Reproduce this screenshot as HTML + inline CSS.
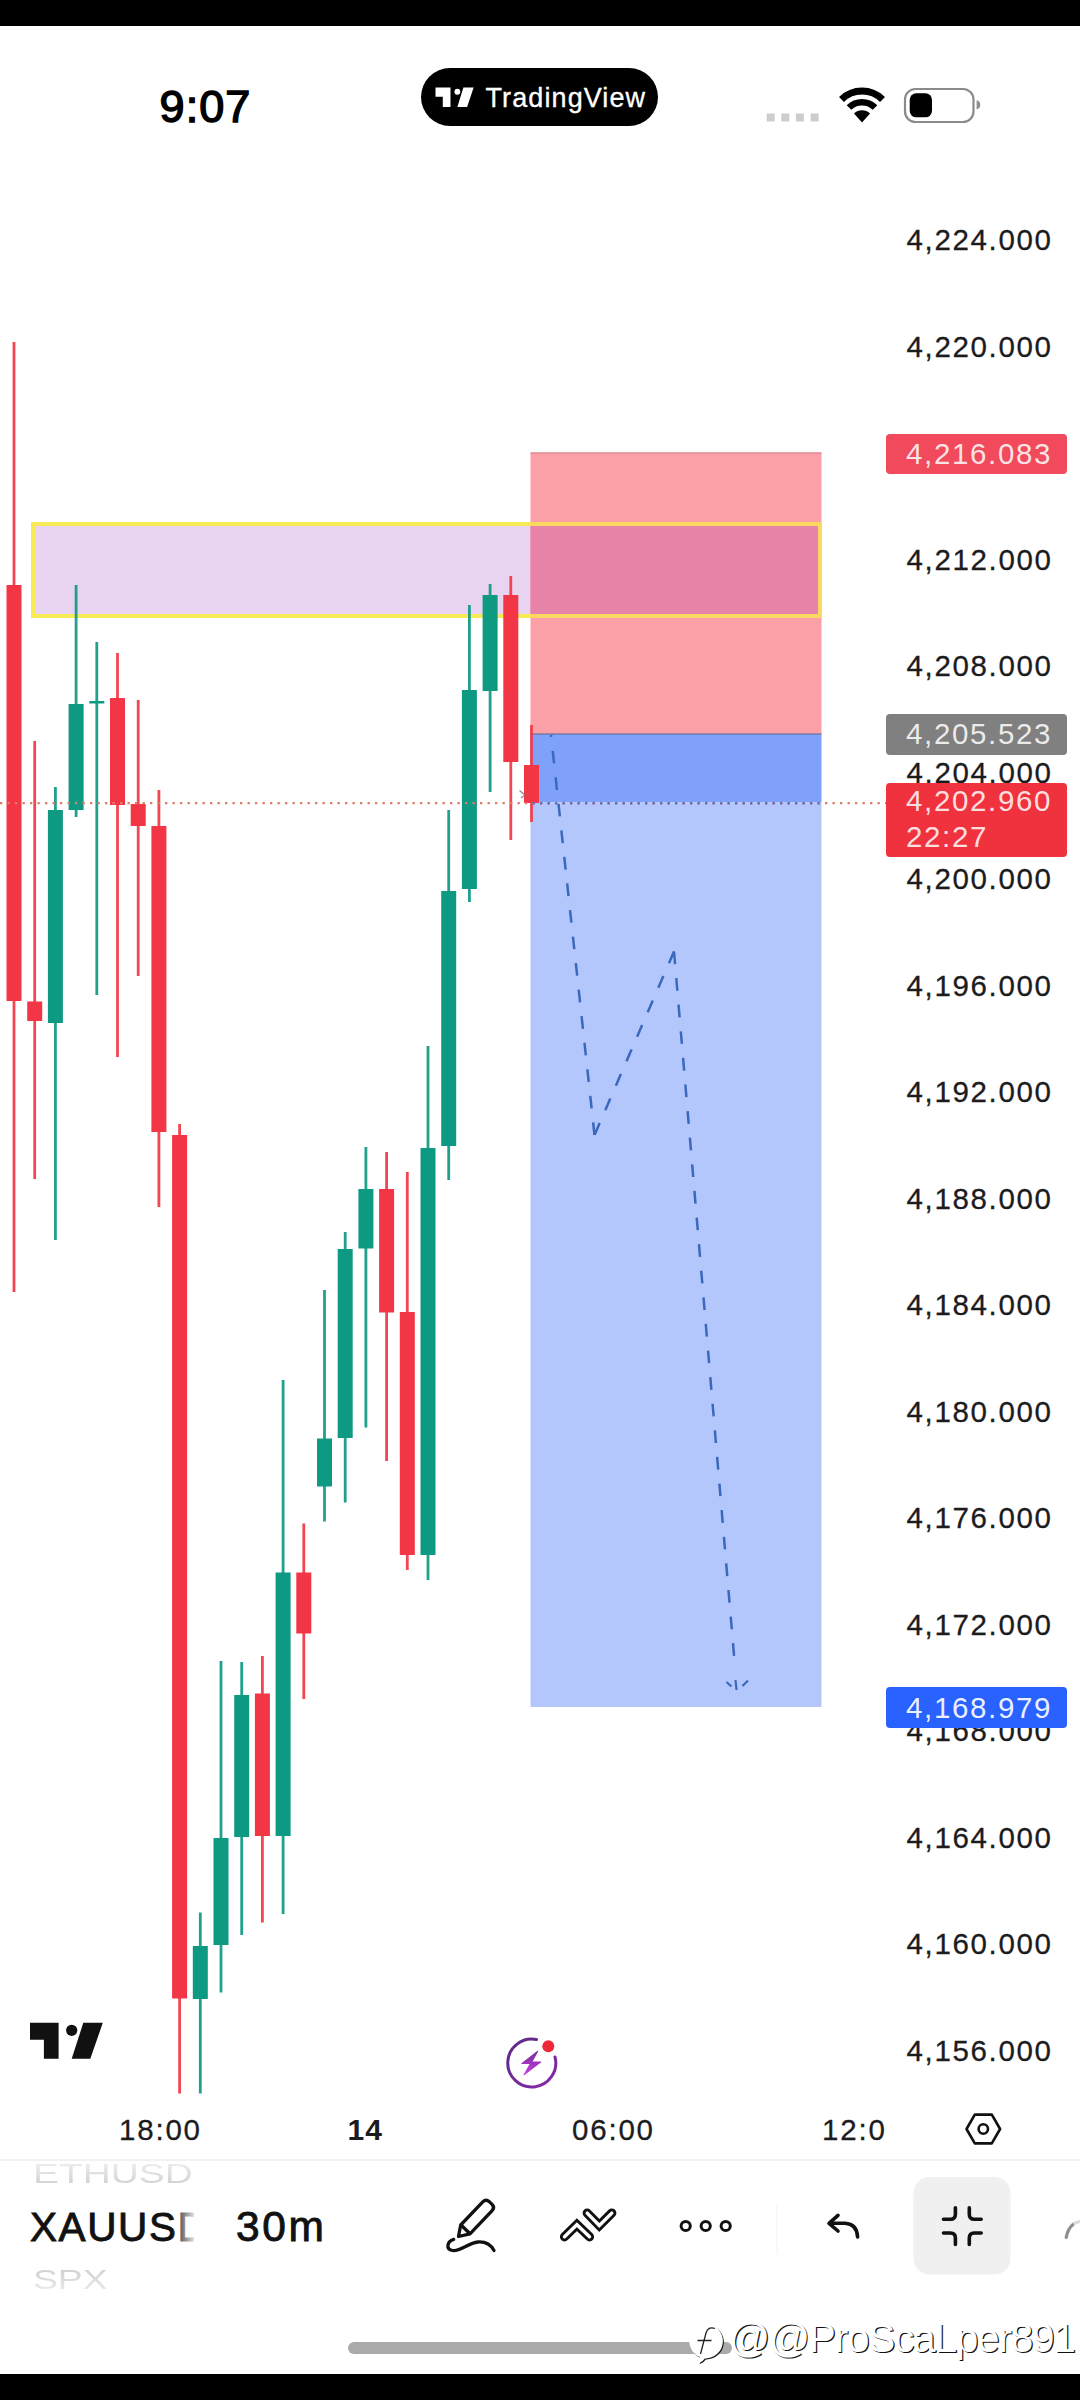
<!DOCTYPE html>
<html><head><meta charset="utf-8"><title>TradingView XAUUSD</title>
<style>
html,body{margin:0;padding:0;background:#fff;}
body{width:1080px;height:2400px;position:relative;overflow:hidden;font-family:"Liberation Sans",sans-serif;color:#131722;}
.abs{position:absolute;}
#bg{position:absolute;left:0;top:0;}
.pl{-webkit-text-stroke:0.3px #1c1c1e;position:absolute;left:906.5px;width:160px;height:40px;line-height:40px;font-size:29.5px;letter-spacing:1.65px;color:#1c1c1e;white-space:nowrap;}
.tag{position:absolute;left:886px;width:181px;border-radius:4px;color:rgba(255,255,255,.85);font-size:29.5px;letter-spacing:1.65px;box-sizing:border-box;padding-left:20px;white-space:nowrap;}
.tl{-webkit-text-stroke:0.3px #1c1c1e;position:absolute;top:2110px;height:40px;line-height:40px;font-size:29.5px;letter-spacing:1.8px;color:#1c1c1e;white-space:nowrap;}
.wide{transform-origin:left center;transform:scaleX(1.4);color:#dcdcdc;font-size:27px;white-space:nowrap;}
</style></head><body>
<svg id="bg" width="1080" height="2400" viewBox="0 0 1080 2400">
<rect x="0" y="0" width="1080" height="26" fill="#000"/>
<rect x="0" y="2374" width="1080" height="26" fill="#000"/>
<!-- zones -->
<rect x="33" y="524" width="787" height="92" fill="#E8D3F1"/>
<rect x="530.5" y="452.5" width="291" height="281.5" fill="#FAA0A6"/>
<rect x="530.5" y="524" width="289.5" height="92" fill="#E783A6"/>
<rect x="530.5" y="734" width="291" height="68.5" fill="#80A1FA"/>
<rect x="530.5" y="802.5" width="291" height="904.5" fill="#B4C7FC"/>
<rect x="33" y="524" width="787" height="92" fill="none" stroke="#F8E957" stroke-width="4"/>
<path d="M530.5,524 H820 V616 H530.5" fill="none" stroke="#FBD862" stroke-width="4"/>
<rect x="530.5" y="733" width="291" height="2" fill="#6b6f9a" opacity="0.6"/>
<rect x="530.5" y="452.2" width="291" height="1.4" fill="#c9707c" opacity="0.55"/>
<!-- candles -->
<rect x="12.6" y="342" width="2.8" height="950" fill="#F23645" opacity="0.92"/>
<rect x="6.5" y="585" width="15" height="416" fill="#F23645"/>
<rect x="33.3" y="741" width="2.8" height="438" fill="#F23645" opacity="0.92"/>
<rect x="27.2" y="1001.5" width="15" height="19.5" fill="#F23645"/>
<rect x="54.0" y="787" width="2.8" height="453" fill="#0E9982" opacity="0.92"/>
<rect x="47.9" y="810" width="15" height="213" fill="#0E9982"/>
<rect x="74.7" y="585" width="2.8" height="232" fill="#0E9982" opacity="0.92"/>
<rect x="68.6" y="704" width="15" height="106" fill="#0E9982"/>
<rect x="95.4" y="642" width="2.8" height="353" fill="#0E9982" opacity="0.92"/>
<rect x="89.3" y="701" width="15" height="2.5" fill="#0E9982"/>
<rect x="116.1" y="653" width="2.8" height="404" fill="#F23645" opacity="0.92"/>
<rect x="110.0" y="698" width="15" height="107" fill="#F23645"/>
<rect x="136.8" y="700" width="2.8" height="276" fill="#F23645" opacity="0.92"/>
<rect x="130.7" y="804" width="15" height="22" fill="#F23645"/>
<rect x="157.5" y="790" width="2.8" height="417" fill="#F23645" opacity="0.92"/>
<rect x="151.4" y="826" width="15" height="306" fill="#F23645"/>
<rect x="178.2" y="1124" width="2.8" height="969.5" fill="#F23645" opacity="0.92"/>
<rect x="172.1" y="1135" width="15" height="863.5" fill="#F23645"/>
<rect x="198.9" y="1912.5" width="2.8" height="181.0" fill="#0E9982" opacity="0.92"/>
<rect x="192.8" y="1946" width="15" height="53" fill="#0E9982"/>
<rect x="219.6" y="1661" width="2.8" height="331.5" fill="#0E9982" opacity="0.92"/>
<rect x="213.5" y="1838" width="15" height="107" fill="#0E9982"/>
<rect x="240.3" y="1662" width="2.8" height="273" fill="#0E9982" opacity="0.92"/>
<rect x="234.2" y="1695" width="15" height="142" fill="#0E9982"/>
<rect x="261.0" y="1656" width="2.8" height="266.5" fill="#F23645" opacity="0.92"/>
<rect x="254.9" y="1693.5" width="15" height="142.5" fill="#F23645"/>
<rect x="281.7" y="1380" width="2.8" height="534" fill="#0E9982" opacity="0.92"/>
<rect x="275.6" y="1572.5" width="15" height="263.5" fill="#0E9982"/>
<rect x="302.4" y="1523.5" width="2.8" height="175.5" fill="#F23645" opacity="0.92"/>
<rect x="296.3" y="1572.5" width="15" height="61.0" fill="#F23645"/>
<rect x="323.1" y="1290" width="2.8" height="231.5" fill="#0E9982" opacity="0.92"/>
<rect x="317.0" y="1438.5" width="15" height="48.0" fill="#0E9982"/>
<rect x="343.8" y="1232" width="2.8" height="270.5" fill="#0E9982" opacity="0.92"/>
<rect x="337.7" y="1249" width="15" height="189" fill="#0E9982"/>
<rect x="364.5" y="1147" width="2.8" height="280.5" fill="#0E9982" opacity="0.92"/>
<rect x="358.4" y="1189" width="15" height="59.5" fill="#0E9982"/>
<rect x="385.2" y="1152" width="2.8" height="309" fill="#F23645" opacity="0.92"/>
<rect x="379.1" y="1189" width="15" height="123.5" fill="#F23645"/>
<rect x="405.9" y="1172" width="2.8" height="398" fill="#F23645" opacity="0.92"/>
<rect x="399.8" y="1312" width="15" height="243" fill="#F23645"/>
<rect x="426.6" y="1046" width="2.8" height="534" fill="#0E9982" opacity="0.92"/>
<rect x="420.5" y="1148" width="15" height="407" fill="#0E9982"/>
<rect x="447.3" y="810" width="2.8" height="370" fill="#0E9982" opacity="0.92"/>
<rect x="441.2" y="891" width="15" height="255" fill="#0E9982"/>
<rect x="468.0" y="605" width="2.8" height="297" fill="#0E9982" opacity="0.92"/>
<rect x="461.9" y="690" width="15" height="199" fill="#0E9982"/>
<rect x="488.7" y="584" width="2.8" height="208" fill="#0E9982" opacity="0.92"/>
<rect x="482.6" y="595" width="15" height="96" fill="#0E9982"/>
<rect x="509.4" y="576" width="2.8" height="264" fill="#F23645" opacity="0.92"/>
<rect x="503.3" y="595" width="15" height="167" fill="#F23645"/>
<rect x="530.1" y="725" width="2.8" height="97" fill="#F23645" opacity="0.92"/>
<rect x="524.0" y="765" width="15" height="38" fill="#F23645"/>
<!-- price line -->
<line x1="0" y1="803.2" x2="886" y2="803.2" stroke="#E07A68" stroke-width="2.2" stroke-dasharray="2.3 5.2"/>
<line x1="532.5" y1="803.2" x2="821.5" y2="803.2" stroke="#6A6CB0" stroke-width="2.4" stroke-dasharray="2.3 5.2"/>
<!-- dashed path -->
<g fill="none" stroke="#3A68BC" stroke-width="2.5" stroke-dasharray="12.7 14"><path d="M594.5,1135 L551,735"/><path d="M674,951.5 L594.5,1135"/><path d="M674,951.5 L735.1,1668"/></g>
<path d="M726.5,1682 L731.5,1686.5 M735.5,1680 L736.5,1690 M748,1680.5 L742.5,1686" stroke="#3A68BC" stroke-width="2.2" fill="none"/>
<!-- pill + grey box (under icons) -->
<rect x="421" y="68" width="237" height="58" rx="29" fill="#000"/>
<rect x="913.5" y="2177" width="97" height="97.5" rx="16" fill="#f0f0f0"/>
<path d="M519.5,790.5 L525,795 L521,798" fill="none" stroke="#8a6a6a" stroke-width="1.4" opacity="0.8"/>
<!-- status icons -->
<g fill="#cdcdcd"><rect x="766.7" y="113.5" width="8" height="8"/><rect x="781.3" y="113.5" width="8" height="8"/><rect x="795.9" y="113.5" width="8" height="8"/><rect x="810.6" y="113.5" width="8" height="8"/></g>
<!-- wifi -->
<g id="wifi" fill="none" stroke="#000" stroke-linecap="butt">
<path d="M841.5,99.5 A29,29 0 0 1 882.5,99.5" stroke-width="7"/>
<path d="M849,107.5 A18.5,18.5 0 0 1 875,107.5" stroke-width="6.5"/>
</g>
<path d="M862,122.5 L854,113.6 A11.5,11.5 0 0 1 870,113.6 Z" fill="#000"/>
<!-- battery -->
<rect x="905" y="89" width="68.5" height="33" rx="10.5" fill="#fff" stroke="#8a8a8a" stroke-width="2.2"/>
<rect x="909.7" y="93.3" width="22.3" height="24" rx="6.5" fill="#000"/>
<path d="M976.6,100.2 q3.6,0.6 3.6,4.6 q0,4 -3.6,4.6 z" fill="#8e8e8e"/>
<!-- pill (drawn in html), logo in pill -->
<g id="tvsmall" fill="#fff" transform="translate(435.5,87.6) scale(0.524,0.54)">
<path d="M0,0 H28.6 V36 H13.9 V17 H0 Z"/><circle cx="41.7" cy="7.5" r="5.6"/><path d="M53.3,0 H72.8 L60.3,36 H41.7 Z"/>
</g>
<!-- big TV logo -->
<g id="tvbig" fill="#111" transform="translate(30,2022.8)">
<path d="M0,0 H28.6 V36 H13.9 V17 H0 Z"/><circle cx="41.7" cy="7.5" r="5.6"/><path d="M53.3,0 H72.8 L60.3,36 H41.7 Z"/>
</g>
<!-- lightning icon -->
<defs><linearGradient id="lg" x1="0" y1="0" x2="1" y2="1"><stop offset="0" stop-color="#5b2a86"/><stop offset="1" stop-color="#8a2aa8"/></linearGradient>
<linearGradient id="lg2" x1="0" y1="0" x2="0" y2="1"><stop offset="0" stop-color="#7a2a9a"/><stop offset="1" stop-color="#c23fe0"/></linearGradient></defs>
<path d="M536.5,2039.5 A24,24 0 1 0 555,2057" fill="none" stroke="url(#lg)" stroke-width="3" stroke-linecap="round"/>
<circle cx="548.3" cy="2046.2" r="6" fill="#ED2939"/>
<path d="M537.8,2051.1 L521.7,2063.5 L530.4,2063.5 L523.9,2075 L540.9,2062 L531.9,2062 Z" fill="url(#lg2)" stroke="url(#lg2)" stroke-width="1" stroke-linejoin="round"/>
<!-- hex settings -->
<path d="M966.5,2129 L974.8,2114.6 L991.8,2114.6 L1000.1,2129 L991.8,2143.4 L974.8,2143.4 Z" fill="none" stroke="#111" stroke-width="2.6" stroke-linejoin="round"/>
<circle cx="983.3" cy="2129" r="4.7" fill="none" stroke="#111" stroke-width="2.6"/>
<!-- pen icon -->
<g fill="none" stroke="#111" stroke-width="3.3" stroke-linecap="round" stroke-linejoin="round">
<path d="M458.5,2236.5 L460.7,2225 L483,2201.7 Q486,2198.7 489.3,2201.7 L492.3,2204.7 Q495,2207.8 491.9,2210.8 L470,2233.9 Z"/>
<path d="M461.5,2225.5 L469.5,2233.3"/>
<path d="M453.7,2239.4 C447,2241.5 445.5,2249 452.5,2250.5 C460,2252 468,2243 478,2242 C486,2241.5 491,2245 494,2250.5"/>
</g>
<!-- indicators icon -->
<g fill="none" stroke-linecap="round" stroke-linejoin="miter">
<path d="M564.5,2236.8 L576.9,2224.7 L589.5,2236.8 M587.2,2213.1 L599.3,2225.5 L611.8,2213.1" stroke="#111" stroke-width="9.2"/>
<path d="M564.5,2236.8 L576.9,2224.7 L589.5,2236.8 M587.2,2213.1 L599.3,2225.5 L611.8,2213.1" stroke="#fff" stroke-width="3.4"/>
</g>
<!-- three dots -->
<g fill="none" stroke="#111" stroke-width="3"><circle cx="685.7" cy="2226" r="4.6"/><circle cx="705.7" cy="2226" r="4.6"/><circle cx="725.7" cy="2226" r="4.6"/></g>
<!-- undo -->
<g fill="none" stroke="#111" stroke-width="3.6" stroke-linecap="round" stroke-linejoin="round">
<path d="M838,2215.3 L829,2223.3 L838,2231"/>
<path d="M830,2223.3 H845 Q857,2224 857.6,2237"/>
</g>
<!-- collapse icon -->
<g fill="none" stroke="#111" stroke-width="3.6" stroke-linecap="round" stroke-linejoin="round">
<path d="M943.5,2219.3 H950.4 Q955.4,2219.3 955.4,2214.3 V2207.8"/>
<path d="M981.2,2219.3 H974.3 Q969.3,2219.3 969.3,2214.3 V2207.8"/>
<path d="M943.5,2233 H950.4 Q955.4,2233 955.4,2238 V2244.5"/>
<path d="M981.2,2233 H974.3 Q969.3,2233 969.3,2238 V2244.5"/>
</g>
<!-- cut-off arc right -->
<path d="M1066.2,2237.5 Q1067.8,2228.5 1073.5,2224" fill="none" stroke="#8e8e8e" stroke-width="3.2" stroke-linecap="round"/>
<path d="M1073.5,2224 Q1076.5,2222 1080,2221.5" fill="none" stroke="#d8d8d8" stroke-width="3"/>
</svg>
<div class="pl" style="top:220.4px">4,224.000</div>
<div class="pl" style="top:326.9px">4,220.000</div>
<div class="pl" style="top:539.9px">4,212.000</div>
<div class="pl" style="top:646.4px">4,208.000</div>
<div class="pl" style="top:752.9px">4,204.000</div>
<div class="pl" style="top:859.4px">4,200.000</div>
<div class="pl" style="top:965.9px">4,196.000</div>
<div class="pl" style="top:1072.4px">4,192.000</div>
<div class="pl" style="top:1178.9px">4,188.000</div>
<div class="pl" style="top:1285.4px">4,184.000</div>
<div class="pl" style="top:1391.9px">4,180.000</div>
<div class="pl" style="top:1498.4px">4,176.000</div>
<div class="pl" style="top:1604.9px">4,172.000</div>
<div class="pl" style="top:1711.4px">4,168.000</div>
<div class="pl" style="top:1817.9px">4,164.000</div>
<div class="pl" style="top:1924.4px">4,160.000</div>
<div class="pl" style="top:2030.9px">4,156.000</div>
<!-- tags -->
<div class="tag" style="top:433.5px;height:40.5px;line-height:40px;background:#F04A5C;">4,216.083</div>
<div class="tag" style="top:714px;height:40.5px;line-height:40px;background:#808080;">4,205.523</div>
<div class="tag" style="top:782.7px;height:74.8px;background:#F0323F;line-height:36.5px;padding-top:0;">4,202.960<br>22:27</div>
<div class="tag" style="top:1686.5px;height:41px;line-height:41px;background:#2962FF;color:rgba(255,255,255,.92);">4,168.979</div>
<!-- time axis -->
<div class="tl" style="left:119px">18:00</div>
<div class="tl" style="left:347.5px;font-weight:bold;font-size:30px;letter-spacing:1px;-webkit-text-stroke:0">14</div>
<div class="tl" style="left:572px">06:00</div>
<div class="tl" style="left:822px">12:0</div>
<!-- status bar -->
<div class="abs" id="clock" style="left:159.5px;top:77px;height:60px;line-height:60px;font-size:45px;letter-spacing:1.1px;color:#000;-webkit-text-stroke:1.5px #000;">9:07</div>
<div class="abs" id="pilltxt" style="left:485.5px;top:69.5px;height:58px;line-height:56px;font-size:27px;color:#fff;letter-spacing:1.1px;-webkit-text-stroke:0.3px #fff;white-space:nowrap;">TradingView</div>
<!-- bottom toolbar -->
<div class="abs" style="left:0;top:2158.5px;width:1080px;height:2px;background:#f1f1f1;"></div>
<div class="abs" style="left:776px;top:2203px;width:2px;height:51px;background:#f9f9f9;"></div>
<div class="abs wide" style="left:33px;top:2154px;height:40px;line-height:40px;width:110.5px;overflow:hidden;transform:scaleX(1.44);background:linear-gradient(#ececec 25%,#d2d2d2 75%);-webkit-background-clip:text;background-clip:text;color:transparent;">ETHUSD</div>
<div class="abs" id="sym" style="left:30px;top:2201px;height:52px;line-height:52px;font-size:40.5px;letter-spacing:1.6px;color:#111;width:164px;overflow:hidden;white-space:nowrap;-webkit-text-stroke:0.9px #111;">XAUUSD</div>
<div class="abs" style="left:172px;top:2201px;width:24px;height:52px;background:linear-gradient(to right,rgba(255,255,255,0),rgba(255,255,255,.85) 90%);"></div>
<div class="abs" id="tf" style="left:236px;top:2201px;height:52px;line-height:52px;font-size:42.5px;letter-spacing:2.6px;color:#111;white-space:nowrap;-webkit-text-stroke:0.9px #111;">30m</div>
<div class="abs wide" style="left:33px;top:2260px;height:40px;line-height:40px;transform:scaleX(1.38);background:linear-gradient(#d2d2d2 25%,#e8e8e8 75%);-webkit-background-clip:text;background-clip:text;color:transparent;">SPX</div>
<!-- home bar -->
<div class="abs" style="left:348px;top:2342px;width:384px;height:12px;border-radius:6px;background:#aaaaaa;"></div>
<!-- watermark -->
<svg class="abs" style="left:680px;top:2315px" width="60" height="56" viewBox="680 2315 60 56">
<path d="M707.3,2324.8 a17.3,17.3 0 1 1 -1.5,34.6 q-2,3.5 -6.3,4.8 q2.2,-2.8 1.3,-6.2 a17.3,17.3 0 0 1 6.5,-33.2 z" fill="#1a1a1a"/>
<path d="M706.3,2323.8 a17.3,17.3 0 1 1 -1.5,34.6 q-2,3.5 -6.3,4.8 q2.2,-2.8 1.3,-6.2 a17.3,17.3 0 0 1 6.5,-33.2 z" fill="#fff"/>
<path d="M715,2328.5 q-7,-2.5 -9,4.5 l-5.5,21 M697.5,2340.5 h14" fill="none" stroke="#222" stroke-width="1.3"/>
</svg>
<div class="abs" id="wm" style="left:729px;top:2312.5px;height:50px;line-height:50px;font-size:40.5px;color:#fff;white-space:nowrap;letter-spacing:-1.2px;text-shadow:1.2px 1.2px 0 #111;">@@ProScaLper891</div>
</body></html>
